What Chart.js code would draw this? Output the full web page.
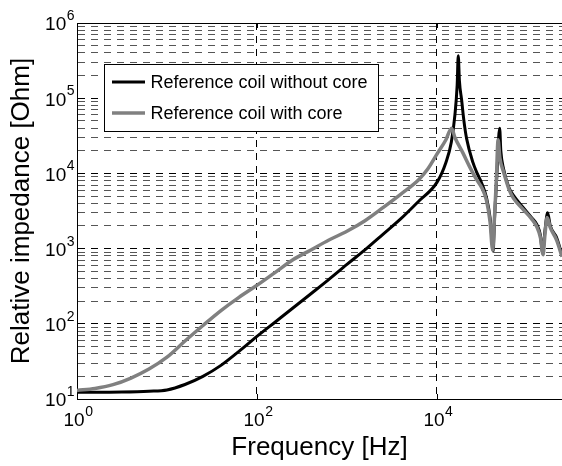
<!DOCTYPE html>
<html>
<head>
<meta charset="utf-8">
<script src="https://cdn.jsdelivr.net/npm/chart.js@4.4.0/dist/chart.umd.min.js"></script>
<style>
  html, body { margin: 0; padding: 0; background: #fff; }
  #wrap { width: 562px; height: 466px; }
</style>
</head>
<body>
<div id="wrap"><canvas id="myChart" width="562" height="466"></canvas></div>
<script>
// frequency [Hz] and relative impedance [Ohm]
var freqBlack = [1, 3.16, 6.31, 10, 15.85, 25.1, 39.8, 63.1, 100, 158.5, 251, 398, 631, 1000, 1585,
    2512, 3981, 6310, 10000, 12590, 14450, 15850, 16790, 17260, 17780, 18790, 19950, 21380, 25120,
    27540, 31620, 35480, 38900, 41210, 42170, 43650, 46240, 49770, 51290, 54950, 63100, 70790,
    91200, 112200, 128800, 141300, 149600, 158500, 169800, 182000, 213800, 245500];
var zBlack = [12.3, 12.4, 12.7, 13.2, 15.6, 20, 28, 43, 68, 105, 162, 251, 390, 616, 960,
    1550, 2500, 4300, 7600, 14000, 26000, 60000, 150000, 367000, 170000, 96000, 50000, 29000, 14000,
    10500, 7300, 4800, 2600, 1200, 920, 2500, 9000, 40000, 20000, 11500, 6500, 5100,
    3500, 2600, 2100, 1500, 880, 1700, 3000, 2000, 1400, 820];

var freqGray = [1, 1.585, 2.512, 3.98, 6.31, 10, 15.85, 25.1, 39.8, 63.1, 100, 158.5, 251, 398, 631,
    1000, 1585, 2512, 3981, 6310, 7943, 10000, 12590, 14550, 15850, 19500, 22910, 27540, 31620, 35480,
    38900, 41690, 43150, 45710, 47860, 50120, 54950, 63100, 70790, 91200, 112200, 128800, 141300,
    151400, 158500, 167900, 182000, 213800, 245500];
var zGray = [13.0, 13.8, 15.5, 19, 25, 36, 59, 95, 150, 225, 325, 480, 710, 960, 1300,
    1700, 2350, 3500, 5300, 8300, 11500, 18000, 28000, 40000, 30000, 18600, 12500, 8300, 6400, 4400,
    2300, 950, 2000, 8000, 28000, 16000, 10500, 6200, 4700, 3300, 2500, 1950, 1400,
    830, 1500, 2600, 1900, 1300, 780];

var seriesLabels = ['Reference coil without core', 'Reference coil with core'];

// tick labels are 10 with a superscript exponent
var xTickValues = [1, 100, 10000];
var xTickExps = ['0', '2', '4'];
var yTickValues = [10, 100, 1000, 10000, 100000, 1000000];
var yTickExps = ['1', '2', '3', '4', '5', '6'];

var FONT = "'Liberation Sans', Arial, sans-serif";

function toPoints(xs, ys) {
    return xs.map(function (x, i) { return { x: x, y: ys[i] }; });
}

// minor grid lines 1..9 x each decade
var yGridValues = [];
for (var d = 10; d < 1000000; d *= 10) {
    for (var m = 1; m < 10; m++) yGridValues.push(d * m);
}
yGridValues.push(1000000);

function isDecade(v) {
    return yTickValues.indexOf(v) !== -1;
}

function drawPower(ctx, exp, x, y, align) {
    // x is the center ('center') or right edge ('right'); y is the middle of "10"
    ctx.font = '19px ' + FONT;
    var wb = ctx.measureText('10').width;
    ctx.font = '14px ' + FONT;
    var we = ctx.measureText(exp).width;
    var left = x;
    if (align === 'center') left = x - (wb + we) / 2;
    if (align === 'right') left = x - wb - we;
    ctx.textAlign = 'left';
    ctx.textBaseline = 'alphabetic';
    ctx.font = '19px ' + FONT;
    ctx.fillText('10', left, y + 6.8);
    ctx.font = '14px ' + FONT;
    ctx.fillText(exp, left + wb + 0.5, y - 3.5);
}

var framePlugin = {
    id: 'frame',
    afterDraw: function (chart) {
        var ctx = chart.ctx;
        var a = chart.chartArea;
        var xs = chart.scales.x;
        var ys = chart.scales.y;
        ctx.save();
        ctx.strokeStyle = '#000';
        ctx.lineWidth = 1;
        ctx.beginPath();
        ctx.moveTo(a.left, Math.round(a.top) + 0.5);
        ctx.lineTo(a.right, Math.round(a.top) + 0.5);
        // inward x ticks
        xTickValues.forEach(function (v) {
            var px = Math.round(xs.getPixelForValue(v)) + 0.5;
            ctx.moveTo(px, a.bottom);
            ctx.lineTo(px, a.bottom - 5);
            ctx.moveTo(px, a.top);
            ctx.lineTo(px, a.top + 5);
        });
        ctx.stroke();

        // tick labels
        ctx.fillStyle = '#000';
        xTickValues.forEach(function (v, i) {
            drawPower(ctx, xTickExps[i], xs.getPixelForValue(v) + 1, a.bottom + 20.5, 'center');
        });
        yTickValues.forEach(function (v, i) {
            drawPower(ctx, yTickExps[i], a.left - 3, ys.getPixelForValue(v) + 0.5, 'right');
        });

        // legend box
        var bx = 104.5, by = 64.5, bw = 274, bh = 67;
        ctx.fillStyle = '#fff';
        ctx.fillRect(bx, by, bw, bh);
        ctx.strokeRect(bx, by, bw, bh);
        var rows = [82, 113];
        ctx.font = '18px ' + FONT;
        ctx.textBaseline = 'middle';
        ctx.textAlign = 'left';
        chart.data.datasets.forEach(function (ds, i) {
            ctx.strokeStyle = ds.borderColor;
            ctx.lineWidth = ds.borderWidth;
            ctx.beginPath();
            ctx.moveTo(112, rows[i]);
            ctx.lineTo(145, rows[i]);
            ctx.stroke();
            ctx.fillStyle = '#000';
            ctx.fillText(ds.label, 150.5, rows[i] + 1);
        });
        ctx.restore();
    }
};

var ctx = document.getElementById('myChart').getContext('2d');
var myChart = new Chart(ctx, {
    type: 'line',
    data: {
        datasets: [
            {
                label: seriesLabels[0],
                data: toPoints(freqBlack, zBlack),
                borderColor: '#000000',
                borderWidth: 3,
                pointRadius: 0,
                cubicInterpolationMode: 'monotone',
                order: 1
            },
            {
                label: seriesLabels[1],
                data: toPoints(freqGray, zGray),
                borderColor: '#808080',
                borderWidth: 3.5,
                pointRadius: 0,
                cubicInterpolationMode: 'monotone',
                order: 0
            }
        ]
    },
    options: {
        responsive: false,
        animation: false,
        devicePixelRatio: 1,
        layout: { padding: { top: 23, right: 0, left: 0, bottom: 0 } },
        plugins: {
            legend: { display: false },
            tooltip: { enabled: false }
        },
        scales: {
            x: {
                type: 'logarithmic',
                min: 1,
                max: 245500,
                afterBuildTicks: function (scale) {
                    scale.ticks = xTickValues.map(function (v) { return { value: v }; });
                },
                afterFit: function (scale) { scale.height = 67; },
                ticks: { display: false },
                grid: { color: '#000', lineWidth: 1, drawTicks: false },
                border: { display: true, color: '#000', width: 1, dash: [7, 6] },
                title: {
                    display: true,
                    text: 'Frequency [Hz]',
                    color: '#000',
                    font: { family: FONT, size: 26 },
                    padding: { top: 0, bottom: 3 }
                }
            },
            y: {
                type: 'logarithmic',
                min: 10,
                max: 1000000,
                afterBuildTicks: function (scale) {
                    scale.ticks = yGridValues.map(function (v) { return { value: v }; });
                },
                afterFit: function (scale) { scale.width = 77; },
                ticks: { display: false },
                grid: {
                    drawTicks: false,
                    lineWidth: 1,
                    color: function (c) {
                        return c.tick && isDecade(c.tick.value) ? '#000' : '#555';
                    }
                },
                border: { display: true, color: '#000', width: 1, dash: [7, 6] },
                title: {
                    display: true,
                    text: 'Relative impedance [Ohm]',
                    color: '#000',
                    font: { family: FONT, size: 26 },
                    padding: { top: 6, bottom: 0 }
                }
            }
        }
    },
    plugins: [framePlugin]
});
</script>
</body>
</html>
